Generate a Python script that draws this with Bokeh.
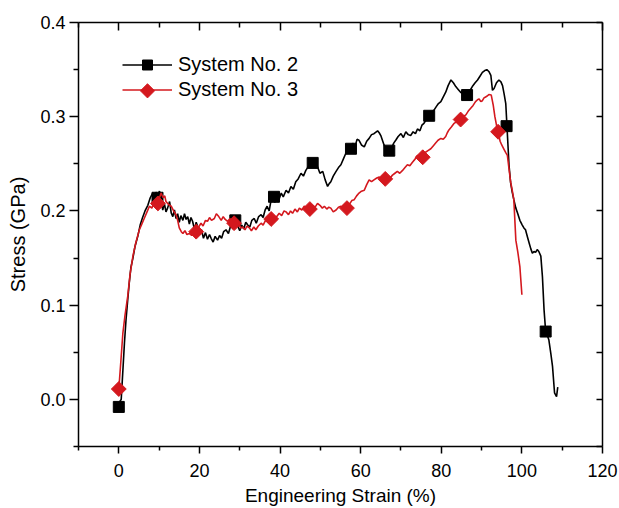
import math
from bokeh.plotting import figure
from bokeh.models import (LinearAxis, FixedTicker, Range1d, Legend, LegendItem,
                          ColumnDataSource, PrintfTickFormatter)
from bokeh.embed import file_html
from bokeh.resources import INLINE

# Stress-strain curve, System No. 2 (engineering strain %, stress GPa)
strain_2 = [
    0.0, 0.3, 0.6, 1.0, 1.4, 1.8, 2.2, 2.6, 3.0, 3.5, 4.0, 4.7, 5.3, 5.9, 6.5, 7.2,
    7.8, 8.4, 8.8, 9.2, 9.7, 10.1, 10.5, 10.9, 11.3, 11.7, 12.1, 12.6, 13.0, 13.4,
    13.8, 14.2, 14.6, 15.0, 15.4, 15.9, 16.3, 16.7, 17.1, 17.5, 17.9, 18.3, 18.8,
    19.2, 19.6, 20.0, 20.5, 21.0, 21.5, 22.0, 22.5, 22.9, 23.4, 23.9, 24.5, 25.0,
    25.5, 26.0, 26.6, 27.2, 27.8, 28.4, 28.9, 29.5, 30.0, 30.5, 31.0, 31.5, 32.0,
    32.5, 33.0, 33.6, 34.1, 34.7, 35.3, 35.8, 36.3, 36.8, 37.3, 37.8, 38.2, 38.7,
    39.2, 39.8, 40.3, 40.8, 41.5, 42.1, 42.7, 43.3, 43.9, 44.5, 45.2, 45.8, 46.4,
    47.0, 47.7, 48.2, 48.7, 49.3, 49.9, 50.6, 51.2, 51.8, 52.2, 52.6, 53.2, 53.9,
    54.5, 55.1, 55.7, 56.3, 57.0, 57.5, 58.0, 58.6, 59.1, 59.6, 60.2, 60.9, 61.5,
    62.1, 62.7, 63.3, 64.2, 64.6, 65.0, 65.4, 65.8, 66.4, 67.1, 67.6, 68.2, 68.7,
    69.3, 70.0, 70.6, 71.2, 71.8, 72.4, 73.0, 73.6, 74.1, 74.7, 75.2, 75.7, 76.3,
    77.0, 77.6, 78.2, 78.8, 79.3, 79.9, 80.5, 81.1, 81.7, 82.4, 83.0, 83.6, 84.2,
    84.8, 85.5, 86.3, 87.0, 87.7, 88.4, 89.0, 89.6, 90.2, 90.8, 91.3, 91.8, 92.3,
    92.7, 93.1, 93.7, 94.3, 94.8, 95.2, 95.6, 96.0, 96.3, 96.8, 97.2, 97.6, 98.0,
    98.5, 98.9, 99.5, 100.1, 100.5, 100.9, 101.4, 101.8, 102.2, 102.6, 103.0,
    103.4, 103.8, 104.2, 104.7, 105.1, 105.5, 105.9, 106.3, 106.7, 107.2, 107.6,
    108.1, 108.6, 108.9,
]
stress_2 = [
    -0.008, -0.002, 0.000, 0.030, 0.060, 0.085, 0.105, 0.124, 0.140, 0.150, 0.162,
    0.173, 0.185, 0.193, 0.200, 0.206, 0.214, 0.219, 0.213, 0.220, 0.217, 0.221,
    0.212, 0.201, 0.208, 0.199, 0.203, 0.210, 0.198, 0.194, 0.201, 0.192, 0.197,
    0.188, 0.195, 0.190, 0.197, 0.191, 0.194, 0.186, 0.193, 0.189, 0.180, 0.188,
    0.183, 0.176, 0.180, 0.171, 0.177, 0.170, 0.175, 0.171, 0.167, 0.173, 0.169,
    0.174, 0.171, 0.178, 0.180, 0.176, 0.185, 0.181, 0.190, 0.184, 0.179, 0.185,
    0.181, 0.188, 0.185, 0.183, 0.190, 0.192, 0.187, 0.194, 0.196, 0.193, 0.201,
    0.205, 0.200, 0.212, 0.217, 0.209, 0.215, 0.213, 0.219, 0.215, 0.222, 0.219,
    0.226, 0.223, 0.231, 0.234, 0.240, 0.237, 0.243, 0.247, 0.250, 0.254, 0.246,
    0.247, 0.240, 0.242, 0.233, 0.226, 0.229, 0.231, 0.237, 0.242, 0.246, 0.249,
    0.255, 0.261, 0.265, 0.262, 0.272, 0.268, 0.276, 0.275, 0.270, 0.268, 0.274,
    0.277, 0.281, 0.282, 0.285, 0.283, 0.280, 0.275, 0.270, 0.265, 0.264, 0.266,
    0.272, 0.275, 0.279, 0.282, 0.278, 0.284, 0.281, 0.280, 0.284, 0.282, 0.287,
    0.285, 0.291, 0.293, 0.297, 0.301, 0.304, 0.307, 0.311, 0.314, 0.316, 0.321,
    0.326, 0.333, 0.339, 0.336, 0.332, 0.329, 0.326, 0.324, 0.322, 0.327, 0.332,
    0.336, 0.339, 0.343, 0.347, 0.349, 0.350, 0.348, 0.344, 0.328, 0.330, 0.336,
    0.339, 0.337, 0.333, 0.324, 0.314, 0.290, 0.249, 0.230, 0.220, 0.212, 0.203,
    0.198, 0.190, 0.185, 0.182, 0.180, 0.172, 0.166, 0.160, 0.155, 0.157, 0.156,
    0.159, 0.157, 0.152, 0.130, 0.095, 0.072, 0.068, 0.063, 0.048, 0.035, 0.007,
    0.003, 0.013,
]

# Stress-strain curve, System No. 3
strain_3 = [
    0.0, 0.5, 1.0, 1.5, 2.2, 2.8, 3.5, 4.2, 5.1, 5.7, 6.3, 7.0, 7.6, 8.2, 8.8, 9.3,
    9.7, 10.1, 10.5, 11.0, 11.4, 11.7, 12.3, 13.0, 13.6, 14.2, 14.6, 15.0, 15.5,
    15.9, 16.4, 16.9, 17.5, 18.1, 18.7, 19.2, 19.8, 20.4, 20.9, 21.5, 22.0, 22.5,
    23.0, 23.7, 24.2, 24.8, 25.4, 25.9, 26.4, 27.0, 27.6, 28.1, 28.6, 29.2, 29.7,
    30.2, 30.7, 31.3, 31.8, 32.4, 32.9, 33.5, 34.0, 34.6, 35.3, 35.8, 36.4, 37.1,
    37.8, 38.4, 39.0, 39.8, 40.4, 41.0, 41.5, 42.1, 42.6, 43.1, 43.7, 44.3, 44.8,
    45.4, 46.0, 46.7, 47.4, 48.0, 48.7, 49.3, 49.9, 50.5, 51.0, 51.6, 52.1, 52.6,
    53.2, 53.9, 54.5, 55.1, 55.8, 56.6, 57.2, 57.8, 58.4, 59.0, 59.6, 60.2, 60.9,
    61.5, 62.1, 62.7, 63.3, 64.0, 64.6, 65.3, 66.1, 66.7, 67.3, 67.9, 68.5, 69.1,
    69.7, 70.4, 71.0, 71.6, 72.2, 72.9, 73.5, 74.1, 74.7, 75.4, 76.0, 76.7, 77.4,
    78.0, 78.6, 79.2, 79.9, 80.5, 81.1, 81.5, 81.9, 82.5, 83.2, 83.9, 84.8, 85.4,
    86.1, 86.7, 87.3, 87.9, 88.5, 89.0, 89.4, 89.8, 90.2, 90.6, 91.0, 91.4, 91.8,
    92.4, 92.9, 93.3, 93.7, 94.1, 94.6, 95.0, 95.5, 96.0, 96.4, 96.8, 97.2, 97.6,
    98.0, 98.5, 99.0, 99.5, 100.0,
]
stress_3 = [
    0.011, 0.040, 0.070, 0.088, 0.109, 0.133, 0.152, 0.166, 0.180, 0.186, 0.192,
    0.199, 0.205, 0.203, 0.210, 0.206, 0.208, 0.214, 0.219, 0.214, 0.216, 0.210,
    0.207, 0.205, 0.200, 0.196, 0.190, 0.182, 0.178, 0.176, 0.179, 0.175, 0.176,
    0.174, 0.177, 0.178, 0.183, 0.187, 0.184, 0.190, 0.189, 0.193, 0.190, 0.192,
    0.197, 0.194, 0.190, 0.194, 0.191, 0.189, 0.192, 0.186, 0.187, 0.184, 0.188,
    0.182, 0.183, 0.180, 0.184, 0.182, 0.179, 0.183, 0.180, 0.184, 0.187, 0.185,
    0.190, 0.188, 0.1915, 0.195, 0.193, 0.1975, 0.195, 0.200, 0.199, 0.196, 0.200,
    0.1975, 0.202, 0.199, 0.203, 0.201, 0.205, 0.203, 0.202, 0.206, 0.204, 0.208,
    0.206, 0.203, 0.205, 0.202, 0.204, 0.203, 0.199, 0.201, 0.204, 0.205, 0.202,
    0.203, 0.207, 0.211, 0.212, 0.216, 0.219, 0.221, 0.222, 0.228, 0.233, 0.231,
    0.233, 0.235, 0.236, 0.233, 0.234, 0.237, 0.235, 0.238, 0.240, 0.242, 0.240,
    0.243, 0.246, 0.249, 0.248, 0.252, 0.255, 0.259, 0.256, 0.257, 0.262, 0.264,
    0.266, 0.269, 0.272, 0.275, 0.277, 0.276, 0.279, 0.283, 0.286, 0.289, 0.293,
    0.295, 0.298, 0.300, 0.302, 0.306, 0.309, 0.312, 0.316, 0.318, 0.319, 0.316,
    0.317, 0.320, 0.321, 0.322, 0.3235, 0.323, 0.312, 0.300, 0.291, 0.284, 0.274,
    0.270, 0.266, 0.262, 0.259, 0.245, 0.231, 0.222, 0.212, 0.169, 0.156, 0.141,
    0.111,
]

# Symbol positions along each curve
marker_strain_2 = [0.0, 9.6, 28.9, 38.5, 48.1, 57.6, 67.1, 77.0, 86.4, 96.2, 105.9]
marker_stress_2 = [-0.008, 0.214, 0.190, 0.215, 0.251, 0.266, 0.264, 0.301, 0.323, 0.290, 0.072]
marker_strain_3 = [0.0, 9.7, 19.2, 28.6, 37.8, 47.4, 56.6, 66.1, 75.4, 84.8, 94.1]
marker_stress_3 = [0.011, 0.208, 0.178, 0.187, 0.1915, 0.202, 0.203, 0.234, 0.257, 0.297, 0.284]

x_ticks = [0, 20, 40, 60, 80, 100, 120]
x_minor = [-10, 10, 30, 50, 70, 90, 110]
y_ticks = [0.0, 0.1, 0.2, 0.3, 0.4]
y_minor = [-0.05, 0.05, 0.15, 0.25, 0.35]

FONT = "Liberation Sans"
RED = "#d4181e"

# Page and frame geometry (pixels)
W, H = 619, 508
B_LEFT, B_RIGHT, B_TOP, B_BOTTOM = 78, 17, 22, 61
X0, X1, Y0, Y1 = -10, 120, -0.05, 0.4

p = figure(width=W, height=H, output_backend="svg", toolbar_location=None,
           x_range=Range1d(X0, X1), y_range=Range1d(Y0, Y1),
           x_axis_location=None, y_axis_location=None,
           min_border_left=B_LEFT, min_border_right=B_RIGHT,
           min_border_top=B_TOP, min_border_bottom=B_BOTTOM)
p.grid.visible = False
p.outline_line_color = None
p.background_fill_color = "white"
p.border_fill_color = "white"


def style_axis(ax, show_labels):
    ax.axis_line_color = "black"
    ax.axis_line_width = 1.5
    ax.major_tick_line_color = "black"
    ax.minor_tick_line_color = "black"
    ax.major_tick_line_width = 1.5
    ax.minor_tick_line_width = 1.5
    ax.major_label_text_font = FONT
    ax.major_label_text_color = "black"
    ax.axis_label_text_font = FONT
    ax.axis_label_text_font_style = "normal"
    ax.axis_label_text_color = "black"
    if not show_labels:
        # mirror axis: ticks only
        ax.major_label_text_color = None
        ax.major_label_text_font_size = "1px"
        ax.major_label_standoff = 0


bottom = LinearAxis(ticker=FixedTicker(ticks=x_ticks, minor_ticks=x_minor),
                    axis_label="Engineering Strain (%)")
style_axis(bottom, True)
bottom.major_tick_out, bottom.major_tick_in = 7, 0
bottom.minor_tick_out, bottom.minor_tick_in = 4, 0
bottom.major_label_text_font_size = "18px"
bottom.major_label_standoff = 10
bottom.axis_label_text_font_size = "19px"
bottom.axis_label_standoff = 5
p.add_layout(bottom, "below")

left = LinearAxis(ticker=FixedTicker(ticks=y_ticks, minor_ticks=y_minor),
                  axis_label="Stress (GPa)", formatter=PrintfTickFormatter(format="%.1f"))
style_axis(left, True)
left.major_tick_out, left.major_tick_in = 9, 0
left.minor_tick_out, left.minor_tick_in = 5, 0
left.major_label_text_font_size = "18px"
left.major_label_standoff = 4
left.axis_label_text_font_size = "20px"
left.axis_label_standoff = 8
p.add_layout(left, "left")

top = LinearAxis(ticker=FixedTicker(ticks=x_ticks, minor_ticks=x_minor))
style_axis(top, False)
top.major_tick_in, top.major_tick_out = 8, 0
top.minor_tick_in, top.minor_tick_out = 5, 0
p.add_layout(top, "above")

right = LinearAxis(ticker=FixedTicker(ticks=y_ticks, minor_ticks=y_minor))
style_axis(right, False)
right.major_tick_in, right.major_tick_out = 6, 0
right.minor_tick_in, right.minor_tick_out = 6, 0
p.add_layout(right, "right")

src2 = ColumnDataSource(dict(x=strain_2, y=stress_2))
src3 = ColumnDataSource(dict(x=strain_3, y=stress_3))
msrc2 = ColumnDataSource(dict(x=marker_strain_2, y=marker_stress_2))
msrc3 = ColumnDataSource(dict(x=marker_strain_3, y=marker_stress_3))

line2 = p.line("x", "y", source=src2, line_color="black", line_width=1.6)
sym2 = p.scatter("x", "y", source=msrc2, marker="square", size=11,
                 fill_color="black", line_color="black")
line3 = p.line("x", "y", source=src3, line_color=RED, line_width=1.6)
# diamonds: squares turned by 45 degrees
sym3 = p.scatter("x", "y", source=msrc3, marker="square", angle=math.pi / 4, size=10.5,
                 fill_color=RED, line_color=RED)

# Legend box placement (screen pixels, from the frame's lower-left corner)
LEG_X, LEG_Y = 44, 344
GLYPH_W, ROW_H = 50, 25
legend = Legend(items=[LegendItem(label="System No. 2", renderers=[line2, sym2]),
                       LegendItem(label="System No. 3", renderers=[line3])],
                location=(LEG_X, LEG_Y), orientation="vertical",
                glyph_width=GLYPH_W, glyph_height=ROW_H, label_height=ROW_H,
                label_standoff=6, padding=0, margin=0, spacing=0,
                border_line_color=None, background_fill_alpha=0,
                label_text_font=FONT, label_text_font_size="20px",
                label_text_color="black")
p.add_layout(legend)

# Legend keys do not rotate markers, so the diamond key for System No. 3
# is placed on the legend row's centre, converted to data units.
frame_w = W - B_LEFT - B_RIGHT
frame_h = H - B_TOP - B_BOTTOM
key_sx = LEG_X + GLYPH_W / 2                 # from frame left
key_sy = LEG_Y + ROW_H / 2                   # from frame bottom (second row)
key_x = X0 + key_sx / frame_w * (X1 - X0)
key_y = Y0 + key_sy / frame_h * (Y1 - Y0)
p.scatter([key_x], [key_y], marker="square", angle=math.pi / 4, size=10,
          fill_color=RED, line_color=RED)

open("out.html", "w").write(file_html(p, INLINE))
